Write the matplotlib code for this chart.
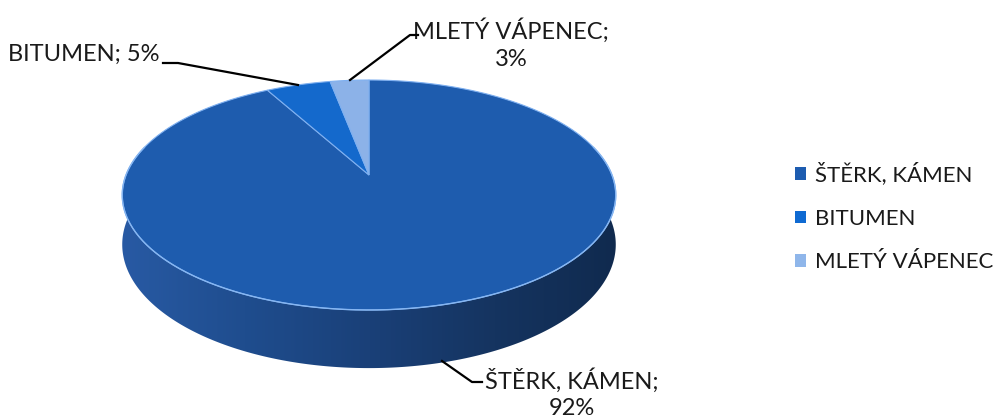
import numpy as np
import matplotlib
matplotlib.use("Agg")
import matplotlib.pyplot as plt
from matplotlib.patches import Polygon, Patch
from matplotlib.colors import LinearSegmentedColormap

plt.rcParams['font.family'] = ['Lato', 'DejaVu Sans']

categories = ["ŠTĚRK, KÁMEN", "BITUMEN", "MLETÝ VÁPENEC"]
values = [92, 5, 3]
label_texts = ["ŠTĚRK, KÁMEN;\n92%", "BITUMEN; 5%", "MLETÝ VÁPENEC;\n3%"]
top_colors = ["#1e5cae", "#1469cc", "#8cb2e8"]
legend_colors = ["#1d5cb0", "#0f6ad2", "#8fb6ea"]

W, H = 1000, 418
fig = plt.figure(figsize=(W / 100, H / 100), dpi=100)
ax = fig.add_axes([0, 0, 1, 1])

# geometry of the 3D pie (pixel layout)
cx, cy = 369, 175
A, B, k = 243, 111.5, 0.174
D = 48


def proj(theta_deg, drop=0.0):
    t = np.radians(theta_deg)
    u = np.sin(t)
    v = -np.cos(t)
    s = 1.0 / (1 - k * v)
    return cx + A * u * s, cy + (B * v + drop) * s


# side of cylinder
th = np.linspace(70, 290, 300)
xt, yt = proj(th)
xb, yb = proj(th, D)
side_pts = np.column_stack([np.concatenate([xt, xb[::-1]]), np.concatenate([yt, yb[::-1]])])
side = Polygon(side_pts, closed=True, facecolor="none", edgecolor="none")
ax.add_patch(side)
grad = np.linspace(0, 1, 256)[None, :]
cmap = LinearSegmentedColormap.from_list("side", ["#285aa4", "#1f4d8e", "#1a4078", "#153460", "#102a4e"])
im = ax.imshow(grad, cmap=cmap, extent=[120, 620, 400, 150], aspect="auto", zorder=1)
im.set_clip_path(side)
ax.set_xlim(0, W)
ax.set_ylim(H, 0)
ax.axis("off")

# top face wedges (clockwise from 12 o'clock)
total = sum(values)
start = 0.0
for val, col in zip(values, top_colors):
    a0 = start / total * 360
    a1 = (start + val) / total * 360
    angs = np.linspace(a0, a1, max(int(a1 - a0) * 2, 4))
    xs, ys = proj(angs)
    px = np.concatenate([[cx], xs])
    py = np.concatenate([[cy], ys])
    ax.add_patch(Polygon(np.column_stack([px, py]), closed=True, facecolor=col,
                         edgecolor="#7fb0f0", linewidth=0.8, zorder=2))
    start += val

# front rim highlight
th2 = np.linspace(75, 285, 200)
xr, yr = proj(th2)
ax.plot(xr, yr, color="#86b6f2", lw=1.0, zorder=3)

# data labels with leader lines
fs = 17
tc = "#1a1a1a"
ax.plot([350, 410, 418], [80, 35, 35], color="black", lw=1.6, zorder=4)
ax.text(511, 44, label_texts[2], ha="center", va="center", fontsize=fs,
        linespacing=1.35, color=tc)
ax.plot([298, 178, 163], [85, 63, 63], color="black", lw=1.6, zorder=4)
ax.text(8, 54, label_texts[1], ha="left", va="center", fontsize=fs, color=tc)
ax.plot([442, 472, 482], [361, 382, 382], color="black", lw=1.6, zorder=4)
ax.text(572, 394, label_texts[0], ha="center", va="center", fontsize=fs,
        linespacing=1.3, color=tc)

# legend
handles = [Patch(facecolor=c, edgecolor="none") for c in legend_colors]
leg = ax.legend(handles, categories, loc="center left", bbox_to_anchor=(0.786, 0.48),
                frameon=False, fontsize=16, handlelength=0.5, handleheight=0.5,
                handletextpad=0.4, labelspacing=1.05, borderaxespad=0)
for t in leg.get_texts():
    t.set_color(tc)

fig.savefig("out.png", dpi=100)
